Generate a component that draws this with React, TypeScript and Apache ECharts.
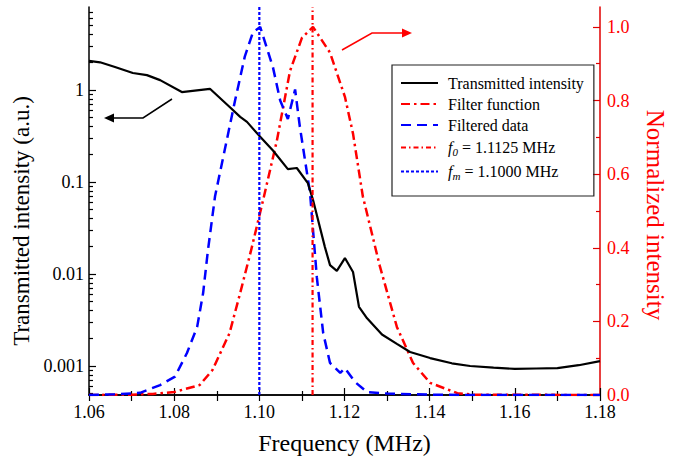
import React, { useEffect, useRef } from 'react';
import * as echarts from 'echarts';

// Transmitted intensity (a.u.), left log axis
const freqT = [1.0600, 1.0626, 1.0661, 1.0703, 1.0736, 1.0767, 1.0818, 1.0884, 1.0931, 1.0955, 1.0971, 1.1002, 1.1032, 1.1067, 1.1088, 1.1114, 1.1126, 1.1154, 1.1166, 1.1182, 1.1201, 1.1220, 1.1234, 1.1253, 1.1288, 1.1323, 1.1354, 1.1401, 1.1452, 1.1495, 1.1550, 1.1600, 1.1650, 1.1700, 1.1750, 1.1800];
const transT = [2.07, 2.0, 1.78, 1.53, 1.45, 1.28, 0.95, 1.03, 0.65, 0.51, 0.45, 0.31, 0.22, 0.138, 0.142, 0.097, 0.064, 0.0196, 0.0125, 0.0108, 0.0149, 0.0105, 0.0044, 0.0033, 0.0022, 0.00174, 0.00142, 0.00122, 0.00107, 0.0010, 0.00096, 0.00093, 0.00094, 0.00095, 0.00102, 0.00113];

// Filter function (normalized), right axis
const freqR = [1.060, 1.070, 1.075, 1.080, 1.086, 1.089, 1.093, 1.0955, 1.098, 1.1009, 1.1041, 1.1072, 1.110, 1.1126, 1.1166, 1.1201, 1.122, 1.1243, 1.1283, 1.1323, 1.1361, 1.1401, 1.1465, 1.150, 1.180];
const normR = [0, 0.001, 0.003, 0.008, 0.027, 0.068, 0.168, 0.277, 0.39, 0.53, 0.69, 0.88, 0.97, 1.0, 0.93, 0.81, 0.71, 0.54, 0.35, 0.185, 0.087, 0.033, 0.005, 0.001, 0];

// Filtered data (normalized), right axis
const freqB = [1.060, 1.066, 1.070, 1.072, 1.0767, 1.0802, 1.083, 1.0854, 1.0868, 1.0879, 1.0896, 1.0943, 1.0966, 1.0985, 1.1002, 1.1032, 1.1049, 1.1067, 1.1084, 1.1095, 1.1107, 1.1119, 1.1135, 1.115, 1.1166, 1.119, 1.1201, 1.1225, 1.1253, 1.130, 1.140, 1.150, 1.180];
const normB = [0, 0.002, 0.004, 0.006, 0.027, 0.05, 0.114, 0.185, 0.277, 0.39, 0.54, 0.80, 0.92, 0.985, 1.0, 0.89, 0.80, 0.75, 0.83, 0.73, 0.64, 0.55, 0.32, 0.168, 0.087, 0.06, 0.073, 0.035, 0.008, 0.004, 0.001, 0, 0];

// Marker frequencies and the normalized span of their vertical lines
const F0 = 1.1125;
const FM = 1.1000;
const vSpan = [0, 1.054];

const leftTickLabels = [0.001, 0.01, 0.1, 1];
const rightTickLabels = [0, 0.2, 0.4, 0.6, 0.8, 1.0];
const rightMinor = [0.1, 0.3, 0.5, 0.7, 0.9];

const FONT = 'Liberation Serif, serif';

export default function App() {
  const ref = useRef<HTMLDivElement>(null);
  useEffect(() => {
    document.body.style.margin = '0';
    if (!ref.current) return;
    const chart = echarts.init(ref.current, undefined, { renderer: 'svg' });
    const yMin = 0.000484;
    const yMax = 7.98;
    const logMinor: number[] = [];
    for (let d = -4; d <= 0; d++) {
      for (let k = 2; k <= 9; k++) {
        const v = k * Math.pow(10, d);
        if (v > yMin && v < yMax) logMinor.push(Number(v.toPrecision(3)));
      }
    }
    const toPairs = (xs: number[], ys: number[]) => xs.map((x, i) => [x, ys[i]]);
    const legendFmt = (name: string) => {
      if (name.startsWith('f0')) return '{i|f}{s|0}{n| = 1.1125 MHz}';
      if (name.startsWith('fm')) return '{i|f}{s|m}{n| = 1.1000 MHz}';
      return name;
    };
    chart.setOption({
      animation: false,
      textStyle: { fontFamily: FONT },
      grid: { left: 89, right: 84, top: 7, bottom: 67, containLabel: false },
      legend: {
        orient: 'vertical',
        left: 392,
        top: 65,
        padding: [10, 10, 15, 8],
        borderColor: '#222',
        borderWidth: 1.2,
        itemWidth: 37,
        itemHeight: 14,
        itemGap: 5,
        itemStyle: { opacity: 0 },
        formatter: legendFmt,
        textStyle: {
          fontFamily: FONT,
          fontSize: 16,
          lineHeight: 16,
          color: '#000',
          padding: [0, 0, 0, 5],
          rich: {
            i: { fontFamily: FONT, fontSize: 16, lineHeight: 16, fontStyle: 'italic', color: '#000' },
            s: { fontFamily: FONT, fontSize: 11, lineHeight: 10, fontStyle: 'italic', color: '#000', padding: [8, 0, 0, 0] },
            n: { fontFamily: FONT, fontSize: 16, lineHeight: 16, color: '#000' },
          },
        },
        data: ['Transmitted intensity', 'Filter function', 'Filtered data', 'f0 = 1.1125 MHz', 'fm = 1.1000 MHz'],
      },
      xAxis: [
        {
          type: 'value',
          min: 1.06,
          max: 1.18,
          interval: 0.02,
          position: 'bottom',
          name: 'Frequency (MHz)',
          nameLocation: 'middle',
          nameGap: 36,
          nameTextStyle: { fontFamily: FONT, fontSize: 24, color: '#000' },
          axisLine: { lineStyle: { color: '#000', width: 1.5 } },
          axisTick: { inside: true, length: 7, lineStyle: { color: '#000', width: 1.2 } },
          minorTick: { show: true, splitNumber: 2, length: 4, lineStyle: { color: '#000', width: 1.2 } },
          axisLabel: { fontFamily: FONT, fontSize: 18, color: '#000', margin: 8, formatter: (v: number) => v.toFixed(2) },
          splitLine: { show: false },
        },
        {
          type: 'value',
          min: 1.06,
          max: 1.18,
          interval: 0.01,
          position: 'top',
          axisLine: { lineStyle: { color: '#000', width: 1.5 } },
          axisTick: { inside: true, length: 6, lineStyle: { color: '#000', width: 1.2 } },
          axisLabel: { show: false },
          splitLine: { show: false },
        },
      ],
      yAxis: [
        {
          type: 'log',
          min: yMin,
          max: yMax,
          position: 'left',
          name: 'Transmitted intensity (a.u.)',
          nameLocation: 'middle',
          nameGap: 54,
          nameTextStyle: { fontFamily: FONT, fontSize: 23, color: '#000', padding: [0, 40, 0, 0] },
          axisLine: { show: true, lineStyle: { color: '#000', width: 1.5 } },
          axisTick: { inside: true, length: 7, customValues: leftTickLabels, lineStyle: { color: '#000', width: 1.2 } },
          axisLabel: { fontFamily: FONT, fontSize: 18, color: '#000', margin: 5, customValues: leftTickLabels, formatter: (v: number) => String(Number(v.toPrecision(3))) },
          splitLine: { show: false },
        },
        {
          type: 'log',
          min: yMin,
          max: yMax,
          position: 'left',
          axisLine: { show: false },
          axisTick: { inside: true, length: 4, customValues: logMinor, lineStyle: { color: '#000', width: 1.2 } },
          axisLabel: { show: false },
          splitLine: { show: false },
        },
        {
          type: 'value',
          min: vSpan[0],
          max: vSpan[1],
          position: 'right',
          name: 'Normalized intensity',
          nameLocation: 'middle',
          nameRotate: -90,
          nameGap: 43,
          nameTextStyle: { fontFamily: FONT, fontSize: 25, color: '#ff0000', padding: [0, 0, 0, 28] },
          axisLine: { show: true, lineStyle: { color: '#e00000', width: 1.5 } },
          axisTick: { inside: true, length: 7, customValues: rightTickLabels, lineStyle: { color: '#e00000', width: 1.2 } },
          axisLabel: { fontFamily: FONT, fontSize: 18, color: '#ff0000', margin: 7, customValues: rightTickLabels, formatter: (v: number) => v.toFixed(1) },
          splitLine: { show: false },
        },
        {
          type: 'value',
          min: vSpan[0],
          max: vSpan[1],
          position: 'right',
          axisLine: { show: false },
          axisTick: { inside: true, length: 4, customValues: rightMinor, lineStyle: { color: '#e00000', width: 1.2 } },
          axisLabel: { show: false },
          splitLine: { show: false },
        },
      ],
      series: [
        {
          name: 'Transmitted intensity',
          type: 'line',
          xAxisIndex: 0,
          yAxisIndex: 0,
          showSymbol: false,
          symbol: 'none',
          data: toPairs(freqT, transT),
          lineStyle: { color: '#000', width: 2.2, type: 'solid' },
          itemStyle: { color: '#000' },
          z: 5,
        },
        {
          name: 'Filter function',
          type: 'line',
          xAxisIndex: 0,
          yAxisIndex: 2,
          showSymbol: false,
          symbol: 'none',
          data: toPairs(freqR, normR),
          lineStyle: { color: '#ff0000', width: 2.5, type: [9, 4, 2.5, 4] },
          itemStyle: { color: '#ff0000' },
          z: 3,
        },
        {
          name: 'Filtered data',
          type: 'line',
          xAxisIndex: 0,
          yAxisIndex: 2,
          showSymbol: false,
          symbol: 'none',
          data: toPairs(freqB, normB),
          lineStyle: { color: '#0000ff', width: 2.5, type: [10, 6] },
          itemStyle: { color: '#0000ff' },
          z: 4,
        },
        {
          name: 'f0 = 1.1125 MHz',
          type: 'line',
          xAxisIndex: 0,
          yAxisIndex: 2,
          showSymbol: false,
          symbol: 'none',
          data: vSpan.map((v) => [F0, v]),
          lineStyle: { color: '#ff0000', width: 2.2, type: [5, 3, 1.5, 3] },
          itemStyle: { color: '#ff0000' },
          z: 6,
        },
        {
          name: 'fm = 1.1000 MHz',
          type: 'line',
          xAxisIndex: 0,
          yAxisIndex: 2,
          showSymbol: false,
          symbol: 'none',
          data: vSpan.map((v) => [FM, v]),
          lineStyle: { color: '#0000ff', width: 2.2, type: [3, 2] },
          itemStyle: { color: '#0000ff' },
          z: 6,
        },
      ],
      graphic: [
        {
          type: 'polyline',
          shape: { points: [[172, 99], [143, 118], [112, 118]] },
          style: { stroke: '#000', lineWidth: 1.5, fill: 'none' },
          z: 10,
        },
        {
          type: 'polygon',
          shape: { points: [[104, 118], [114, 113.5], [114, 122.5]] },
          style: { fill: '#000' },
          z: 10,
        },
        {
          type: 'polyline',
          shape: { points: [[342, 50], [372, 33], [403, 33]] },
          style: { stroke: '#ff0000', lineWidth: 1.5, fill: 'none' },
          z: 10,
        },
        {
          type: 'polygon',
          shape: { points: [[412, 33], [402, 28.5], [402, 37.5]] },
          style: { fill: '#ff0000' },
          z: 10,
        },
      ],
    });
    return () => chart.dispose();
  }, []);
  return <div ref={ref} style={{ width: 684, height: 462 }} />;
}
